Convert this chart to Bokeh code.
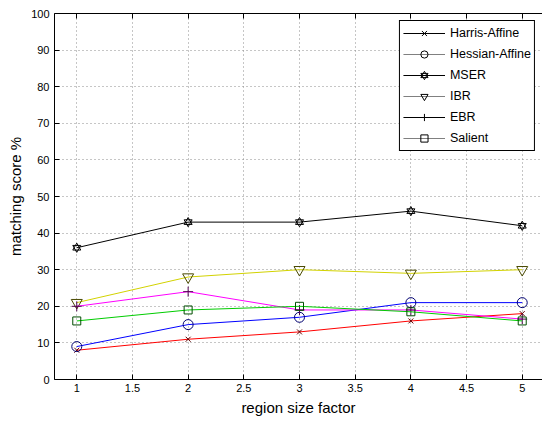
from bokeh.plotting import figure
from bokeh.models import Range1d, LinearAxis, FixedTicker, Legend, LegendItem, CustomJSTickFormatter
from bokeh.embed import file_html
from bokeh.resources import INLINE

# ---- data ----
region_factor = [1, 2, 3, 4, 5]
harris_affine = [8, 11, 13, 16, 18]
hessian_affine = [9, 15, 17, 21, 21]
mser = [36, 43, 43, 46, 42]
ibr = [21, 28, 30, 29, 30]
ebr = [20, 24, 19, 19, 16.5]
salient = [16, 19, 20, 18.5, 16]
series_names = ["Harris-Affine", "Hessian-Affine", "MSER", "IBR", "EBR", "Salient"]

x_ticks = [1, 1.5, 2, 2.5, 3, 3.5, 4, 4.5, 5]
x_tick_labels = ["1", "1.5", "2", "2.5", "3", "3.5", "4", "4.5", "5"]
y_ticks = [0, 10, 20, 30, 40, 50, 60, 70, 80, 90, 100]

# ---- styles ----
series = [harris_affine, hessian_affine, mser, ibr, ebr, salient]
line_colors = ["#ff0000", "#0000ff", "#000000", "#d2d200", "#ff00ff", "#00cc00"]
marker_colors = ["#600000", "#000070", "#000000", "#4a4a00", "#500050", "#004d00"]
markers = ["x", "circle", "hexagram", "inverted_triangle", "cross", "square"]
marker_sizes = [7, 10, 8, 11, 10, 8]
legend_line_colors = ["#000000", "#808080", "#000000", "#808080", "#000000", "#808080"]
FONT = "Liberation Sans"
NAN = float("nan")

p = figure(width=542, height=421, output_backend="svg", toolbar_location=None,
           x_range=Range1d(0.8, 5.182), y_range=Range1d(0, 100),
           min_border_left=54, min_border_right=0, min_border_top=13, min_border_bottom=42)
p.outline_line_color = None
p.background_fill_color = "white"
p.border_fill_color = "white"

# axes
p.xaxis.ticker = FixedTicker(ticks=x_ticks)
p.xaxis.major_label_overrides = {t: l for t, l in zip(x_ticks, x_tick_labels)}
p.yaxis.ticker = FixedTicker(ticks=y_ticks)
p.xaxis.axis_label = "region size factor"
p.yaxis.axis_label = "matching score %"
for ax in (p.xaxis[0], p.yaxis[0]):
    ax.major_tick_in = 5
    ax.major_tick_out = 0
    ax.minor_tick_in = 0
    ax.minor_tick_out = 0
    ax.axis_line_color = "black"
    ax.major_tick_line_color = "black"
    ax.major_label_text_font = FONT
    ax.major_label_text_font_size = "11px"
    ax.major_label_text_color = "black"
    ax.axis_label_text_font = FONT
    ax.axis_label_text_font_size = "15px"
    ax.axis_label_text_font_style = "normal"
    ax.axis_label_text_color = "black"
p.xaxis.major_label_standoff = 4
p.xaxis.axis_label_standoff = 4
p.yaxis.major_label_standoff = 5
p.yaxis.axis_label_standoff = 4

top_axis = LinearAxis(ticker=FixedTicker(ticks=x_ticks),
                      formatter=CustomJSTickFormatter(code="return ''"),
                      major_label_text_font_size="0px", major_label_standoff=0,
                      major_tick_in=5, major_tick_out=0, minor_tick_in=0, minor_tick_out=0,
                      axis_line_color="black", major_tick_line_color="black")
p.add_layout(top_axis, "above")

# grid
for g in (p.xgrid[0], p.ygrid[0]):
    g.grid_line_color = "#8c8c8c"
    g.grid_line_dash = "1 3"
    g.grid_line_width = 1
p.xgrid.ticker = FixedTicker(ticks=x_ticks)
p.ygrid.ticker = FixedTicker(ticks=y_ticks)


def add_markers(xs, ys, marker, size, color):
    rs = []
    if marker == "hexagram":
        for m in ("triangle", "inverted_triangle"):
            rs.append(p.scatter(xs, ys, marker=m, size=size, line_color=color,
                                fill_color=None, line_width=1))
    else:
        rs.append(p.scatter(xs, ys, marker=marker, size=size, line_color=color,
                            fill_color=None, line_width=1))
    return rs


# data lines
for ys, lc, mc, mk, ms in zip(series, line_colors, marker_colors, markers, marker_sizes):
    p.line(region_factor, ys, line_color=lc, line_width=1)
    add_markers(region_factor, ys, mk, ms, mc)

# legend (MATLAB-style black / grey entries); placeholder renderers hold NaN only
items = []
for name, llc, mk, ms in zip(series_names, legend_line_colors, markers, marker_sizes):
    lr = p.line([NAN], [NAN], line_color=llc, line_width=1)
    mrs = add_markers([NAN], [NAN], mk, ms, "#000000")
    items.append(LegendItem(label=name, renderers=[lr] + mrs))

legend = Legend(items=items, location="top_right")
legend.border_line_color = "black"
legend.border_line_width = 1
legend.border_line_alpha = 1
legend.background_fill_color = "white"
legend.background_fill_alpha = 1
legend.label_text_font = FONT
legend.label_text_font_size = "12.5px"
legend.label_text_color = "black"
legend.glyph_width = 42
legend.glyph_height = 18
legend.label_height = 18
legend.spacing = 3
legend.padding = 3
legend.margin = 7
legend.label_standoff = 5
p.add_layout(legend)

open("out.html", "w").write(file_html(p, INLINE))
